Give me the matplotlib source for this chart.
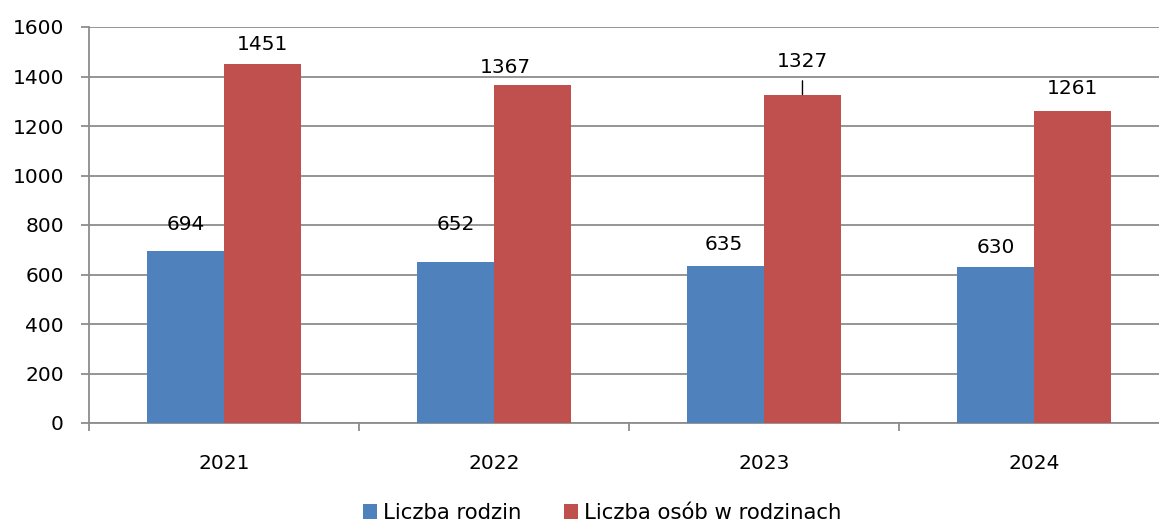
import numpy as np
import matplotlib
matplotlib.use("Agg")
import matplotlib.pyplot as plt

# ------------------------------------------------------
# Data
# ------------------------------------------------------
years = ["2021", "2022", "2023", "2024"]
families = [694, 652, 635, 630]
persons = [1451, 1367, 1327, 1261]
series_names = ["Liczba rodzin", "Liczba osób w rodzinach"]

# label offsets in pixels (dx, dy from bar top to label centre)
families_offsets = [(0, 27), (0, 37), (-2, 21), (0, 20)]
persons_offsets = [(0, 19), (-27, 17), (0, 33), (0, 22)]

BLUE = "#4F81BD"
RED = "#C0504D"
GRID = "#8C8C8C"
FS = 14.5

plt.rcParams["font.family"] = ["DejaVu Sans"]

fig = plt.figure(figsize=(11.59, 5.23), dpi=100)
ax = fig.add_axes([89 / 1159, 100 / 523, 1080 / 1159, 396 / 523])

x = np.arange(len(years))
w = 0.285
bars_f = ax.bar(x - w / 2, families, w, color=BLUE, label=series_names[0], zorder=3)
bars_p = ax.bar(x + w / 2, persons, w, color=RED, label=series_names[1], zorder=3)

# value labels
for rect, val, (dx, dy) in zip(bars_f, families, families_offsets):
    ax.annotate(str(val), (rect.get_x() + rect.get_width() / 2, val),
                xytext=(dx, dy), textcoords="offset pixels",
                ha="center", va="center", fontsize=FS, color="black")

for rect, val, (dx, dy) in zip(bars_p, persons, persons_offsets):
    cx = rect.get_x() + rect.get_width() / 2
    if val == 1327:
        # label moved up, with a leader line to the bar
        ax.annotate(str(val), (cx, val), xytext=(dx, dy), textcoords="offset pixels",
                    ha="center", va="center", fontsize=FS, color="black",
                    arrowprops=dict(arrowstyle="-", color="black", lw=1.0,
                                    shrinkA=5, shrinkB=0))
    else:
        ax.annotate(str(val), (cx, val), xytext=(dx, dy), textcoords="offset pixels",
                    ha="center", va="center", fontsize=FS, color="black")

# axes formatting
ax.set_xlim(-0.5, len(years) - 0.5)
ax.set_ylim(0, 1600)
ax.set_yticks(np.arange(0, 1601, 200))
ax.yaxis.grid(True, color=GRID, linewidth=1.3, zorder=0)
ax.set_axisbelow(True)

ax.set_xticks(x)
ax.set_xticklabels(years)
ax.set_xticks(np.arange(-0.5, len(years)), minor=True)
ax.tick_params(axis="x", which="major", length=0, pad=22, labelsize=FS)
ax.tick_params(axis="x", which="minor", length=6, width=1.3, color=GRID)
ax.tick_params(axis="y", length=6, width=1.3, color=GRID, pad=12, labelsize=FS)

for side in ["top", "right"]:
    ax.spines[side].set_visible(False)
for side in ["left", "bottom"]:
    ax.spines[side].set_color(GRID)
    ax.spines[side].set_linewidth(1.3)

fig.legend(loc="center", bbox_to_anchor=(602 / 1159, 10 / 523), ncol=2,
           frameon=False, fontsize=15.3, handlelength=0.65, handleheight=0.65,
           handletextpad=0.3, columnspacing=2.0)

fig.savefig("out.png", dpi=100)
